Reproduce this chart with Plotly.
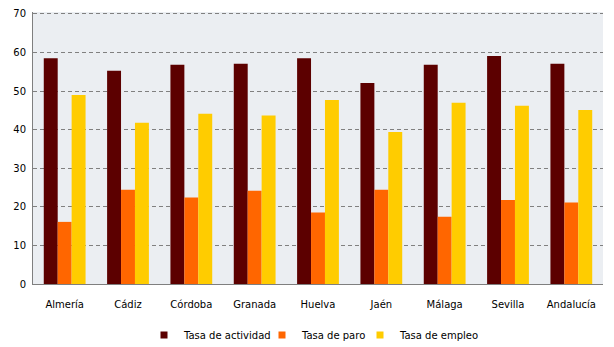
import plotly.graph_objects as go

categories = ["Almería", "Cádiz", "Córdoba", "Granada", "Huelva", "Jaén", "Málaga", "Sevilla", "Andalucía"]
tasa_actividad = [58.5, 55.3, 56.8, 57.1, 58.5, 52.1, 56.8, 59.1, 57.1]
tasa_paro = [16.1, 24.4, 22.4, 24.2, 18.5, 24.4, 17.4, 21.8, 21.1]
tasa_empleo = [49.0, 41.8, 44.1, 43.7, 47.7, 39.4, 47.0, 46.2, 45.1]
y_ticks = [0, 10, 20, 30, 40, 50, 60, 70]

font_family = "DejaVu Sans"
series = [
    ("Tasa de actividad", tasa_actividad, "#5C0000"),
    ("Tasa de paro", tasa_paro, "#FF6600"),
    ("Tasa de empleo", tasa_empleo, "#FFCC00"),
]
legend_ids = ["legend", "legend2", "legend3"]
legend_x = [144, 262, 360]  # px from left of page

fig = go.Figure()
for name, vals, color in series:
    fig.add_trace(go.Bar(x=categories, y=vals, name=name, showlegend=False,
                         marker=dict(color=color, line=dict(width=0))))
# legend entries with small square markers
for (name, vals, color), lid in zip(series, legend_ids):
    fig.add_trace(go.Scatter(x=[None], y=[None], mode="markers", name=name, legend=lid,
                             marker=dict(symbol="square", size=7, color=color)))

W, H = 614, 347
legend_common = dict(orientation="h", xref="container", yref="container", xanchor="left",
                     y=1 - 335 / H, yanchor="middle", font=dict(size=10), itemwidth=30,
                     bgcolor="rgba(0,0,0,0)")
layout_legends = {}
for lid, lx in zip(legend_ids, legend_x):
    layout_legends[lid] = dict(legend_common, x=lx / W)

fig.update_layout(
    width=W, height=H,
    margin=dict(l=33, r=11, t=12, b=63, autoexpand=False),
    paper_bgcolor="white",
    plot_bgcolor="#EBEEF2",
    barmode="group",
    bargap=0.34,
    bargroupgap=0,
    font=dict(family=font_family, size=10, color="#000000"),
    showlegend=True,
    xaxis=dict(showline=True, linecolor="#7F7F7F", linewidth=1, ticks="", showgrid=False,
               tickfont=dict(size=10), ticklabelstandoff=11),
    yaxis=dict(range=[0, 70.5], tickvals=y_ticks, showgrid=True, gridcolor="#808080",
               griddash="4px,3px", gridwidth=1, showline=True, linecolor="#7F7F7F", linewidth=1,
               zeroline=False, ticks="", tickfont=dict(size=10), ticklabelstandoff=4),
    **layout_legends,
)

fig.write_html("out.html")
